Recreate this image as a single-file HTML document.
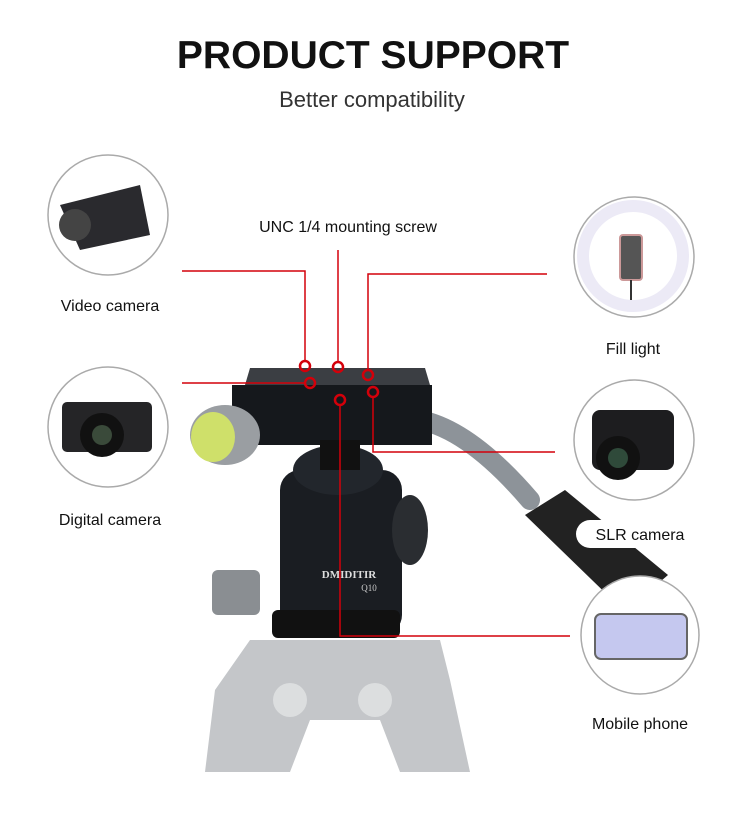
<!DOCTYPE html>
<html><head><meta charset="utf-8"><style>
body{margin:0;width:750px;height:808px;background:#fff;overflow:hidden;font-family:"Liberation Sans",sans-serif}
</style></head><body>
<svg width="750" height="808" xmlns="http://www.w3.org/2000/svg" font-family="Liberation Sans, sans-serif">
<text x="373" y="68" text-anchor="middle" font-size="39" font-weight="bold" fill="#111">PRODUCT SUPPORT</text>
<text x="372" y="107" text-anchor="middle" font-size="22" fill="#333">Better compatibility</text>
<text x="348" y="232" text-anchor="middle" font-size="16" fill="#111">UNC 1/4 mounting screw</text>
<text x="110" y="311" text-anchor="middle" font-size="16" fill="#111">Video camera</text>
<text x="110" y="525" text-anchor="middle" font-size="16" fill="#111">Digital camera</text>
<text x="633" y="354" text-anchor="middle" font-size="16" fill="#111">Fill light</text>
<text x="640" y="729" text-anchor="middle" font-size="16" fill="#111">Mobile phone</text>

<!-- tripod gray -->
<g fill="#c4c6c9">
<path d="M250 640 L440 640 L450 680 L470 772 L400 772 L380 720 L310 720 L290 772 L205 772 L215 690 Z"/>
</g>
<circle cx="290" cy="700" r="17" fill="#dcdedf"/><circle cx="375" cy="700" r="17" fill="#dcdedf"/>
<!-- handle -->
<path d="M420 420 Q470 430 530 500" stroke="#8d9399" stroke-width="20" fill="none" stroke-linecap="round"/>
<path d="M525 515 L565 490 L668 575 L625 612 Z" fill="#222"/>
<!-- ball head -->
<rect x="280" y="470" width="122" height="165" rx="20" fill="#1a1d22"/>
<ellipse cx="338" cy="470" rx="45" ry="25" fill="#22262c"/>
<ellipse cx="410" cy="530" rx="18" ry="35" fill="#2a2d31"/>
<rect x="272" y="610" width="128" height="28" rx="6" fill="#111"/>
<text x="349" y="578" text-anchor="middle" font-size="11" font-weight="bold" fill="#ddd" font-family="Liberation Serif,serif">DMIDITIR</text>
<text x="369" y="591" text-anchor="middle" font-size="9" fill="#ccc" font-family="Liberation Serif,serif">Q10</text>
<rect x="212" y="570" width="48" height="45" rx="6" fill="#8a8e92"/>
<!-- plate -->
<path d="M250 368 L425 368 L430 385 L245 385 Z" fill="#3b3e43"/>
<rect x="232" y="385" width="200" height="60" fill="#15181c"/>
<rect x="320" y="440" width="40" height="30" fill="#111"/>
<ellipse cx="225" cy="435" rx="35" ry="30" fill="#9a9ea2"/>
<ellipse cx="213" cy="437" rx="22" ry="25" fill="#cfe06a"/>
<!-- red lines -->
<g stroke="#d4000a" stroke-width="1.5" fill="none">
<path d="M182 271 H305 V362"/>
<path d="M338 250 V363"/>
<path d="M547 274 H368 V371"/>
<path d="M182 383 H306"/>
<path d="M340 404 V636 H570"/>
<path d="M373 396 V452 H555"/>
</g>
<g stroke="#d4000a" stroke-width="2.5" fill="none">
<circle cx="305" cy="366" r="5"/><circle cx="338" cy="367" r="5"/><circle cx="368" cy="375" r="5"/>
<circle cx="310" cy="383" r="5"/><circle cx="340" cy="400" r="5"/><circle cx="373" cy="392" r="5"/>
</g>
<!-- SLR pill -->
<path d="M590 520 H700 V548 H590 A14 14 0 0 1 590 520 Z" fill="#fff"/>
<text x="640" y="540" text-anchor="middle" font-size="16" fill="#111">SLR camera</text>
<!-- circles -->
<g fill="#fff" stroke="#aaa" stroke-width="1.5">
<circle cx="108" cy="215" r="60"/><circle cx="108" cy="427" r="60"/>
<circle cx="634" cy="257" r="60"/><circle cx="634" cy="440" r="60"/><circle cx="640" cy="635" r="59"/>
</g>
<path d="M60 205 L140 185 L150 235 L80 250 Z" fill="#2a2a2e"/><circle cx="75" cy="225" r="16" fill="#444"/>
<rect x="62" y="402" width="90" height="50" rx="5" fill="#252527"/><circle cx="102" cy="435" r="22" fill="#111"/><circle cx="102" cy="435" r="10" fill="#3a4a3a"/>
<circle cx="633" cy="256" r="50" fill="none" stroke="#eceaf6" stroke-width="12"/>
<rect x="620" y="235" width="22" height="45" rx="3" fill="#555" stroke="#c99" stroke-width="2"/>
<line x1="631" y1="280" x2="631" y2="300" stroke="#333" stroke-width="2"/>
<rect x="592" y="410" width="82" height="60" rx="8" fill="#1d1d1f"/><circle cx="618" cy="458" r="22" fill="#111"/><circle cx="618" cy="458" r="10" fill="#2f4a3a"/>
<rect x="595" y="614" width="92" height="45" rx="6" fill="#c5c8ef" stroke="#666" stroke-width="2"/>
</svg>
</body></html>
